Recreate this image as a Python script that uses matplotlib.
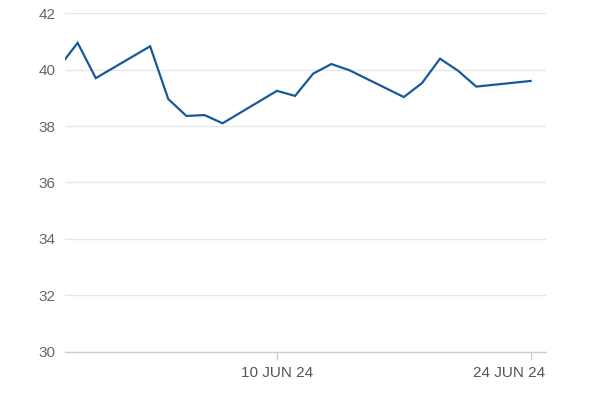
import numpy as np
import pandas as pd
import matplotlib
matplotlib.use("Agg")
import matplotlib.pyplot as plt
import matplotlib.dates as mdates
import matplotlib.transforms as mtransforms

# data (business days)
dates = pd.to_datetime([
    "2024-05-29", "2024-05-30", "2024-05-31",
    "2024-06-03", "2024-06-04", "2024-06-05", "2024-06-06", "2024-06-07",
    "2024-06-10", "2024-06-11", "2024-06-12", "2024-06-13", "2024-06-14",
    "2024-06-17", "2024-06-18", "2024-06-19", "2024-06-20", "2024-06-21",
    "2024-06-24",
])
values = [
    40.12, 40.95, 39.70,
    40.83, 38.96, 38.36, 38.39, 38.10,
    39.25, 39.07, 39.86, 40.20, 39.98,
    39.03, 39.52, 40.39, 39.96, 39.40,
    39.60,
]
tick_dates = pd.to_datetime(["2024-06-10", "2024-06-24"])
tick_labels = ["10 JUN 24", "24 JUN 24"]
y_ticks = [30, 32, 34, 36, 38, 40, 42]

plt.rcParams["font.family"] = ["Liberation Sans", "DejaVu Sans"]

fig = plt.figure(figsize=(6, 4), dpi=100)
ax = fig.add_axes([0.1083, 0.1208, 0.8017, 0.846])

ax.plot(dates, values, color="#17599a", linewidth=1.6, solid_joinstyle="miter",
        zorder=3)

ax.set_xlim(pd.Timestamp("2024-05-29 07:12"), pd.Timestamp("2024-06-24 20:24"))
ax.set_ylim(30, 42)

ax.set_yticks(y_ticks)
ax.set_yticklabels([str(v) for v in y_ticks])
ax.grid(axis="y", color="#e6e6e6", linewidth=1.0)
ax.set_axisbelow(True)

ax.set_xticks(tick_dates)
ax.set_xticklabels(tick_labels)

for side in ["top", "right", "left"]:
    ax.spines[side].set_visible(False)
ax.spines["bottom"].set_color("#c8cfd8")
ax.spines["bottom"].set_linewidth(1.0)

ax.tick_params(axis="y", length=0, pad=7, labelsize=11, labelcolor="#666666")
ax.tick_params(axis="x", length=6, width=1, color="#c8cfd8", pad=4,
               labelsize=11, labelcolor="#555555")

# last date label is pushed in so it ends at the right edge
last = ax.get_xticklabels()[-1]
last.set_horizontalalignment("right")
last.set_transform(last.get_transform() +
                   mtransforms.ScaledTranslation(15 / 100, 0, fig.dpi_scale_trans))

fig.savefig("out.png", dpi=100, facecolor="white")
